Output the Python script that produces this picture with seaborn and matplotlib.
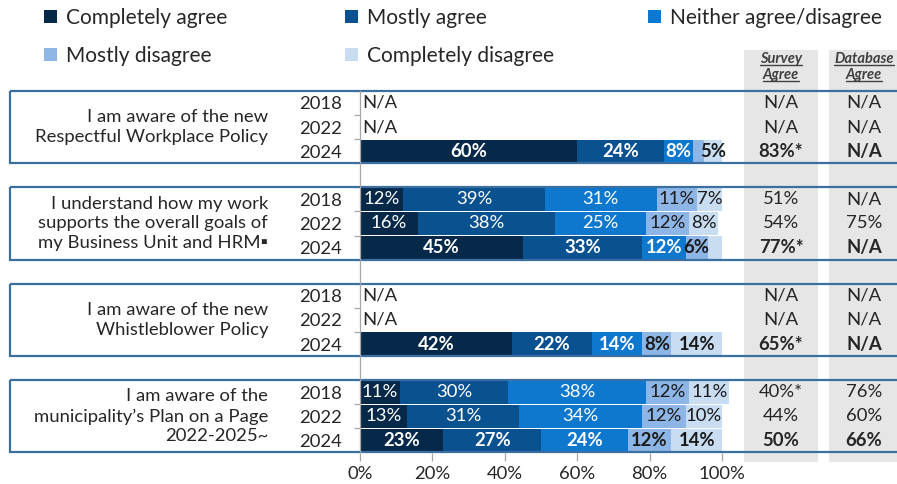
import matplotlib
matplotlib.use("Agg")
import matplotlib.pyplot as plt
from matplotlib.patches import Patch, Rectangle
from matplotlib.lines import Line2D
import numpy as np
import pandas as pd
import seaborn as sns

# ---- data -------------------------------------------------------------
questions = [
    "I am aware of the new\nRespectful Workplace Policy",
    "I understand how my work\nsupports the overall goals of\nmy Business Unit and HRM\u25aa",
    "I am aware of the new\nWhistleblower Policy",
    "I am aware of the\nmunicipality\u2019s Plan on a Page\n2022-2025~",
]
years = ["2018", "2022", "2024"]
levels = ["Completely agree", "Mostly agree", "Neither agree/disagree",
          "Mostly disagree", "Completely disagree"]
level_colors = ["#06294A", "#0A5190", "#0E78CF", "#8DB5E6", "#C8DCF2"]

# percentages per year (2018, 2022, 2024); None = question not asked
respectful = [None, None, [60, 24, 8, 3, 5]]
understand = [[12, 39, 31, 11, 7], [16, 38, 25, 12, 8], [45, 33, 12, 6, 4]]
whistleblower = [None, None, [42, 22, 14, 8, 14]]
plan_on_page = [[11, 30, 38, 12, 11], [13, 31, 34, 12, 10], [23, 27, 24, 12, 14]]

survey_agree = [["N/A", "N/A", "83%*"],
                ["51%", "54%", "77%*"],
                ["N/A", "N/A", "65%*"],
                ["40%*", "44%", "50%"]]
database_agree = [["N/A", "N/A", "N/A"],
                  ["N/A", "75%", "N/A"],
                  ["N/A", "N/A", "N/A"],
                  ["76%", "60%", "66%"]]

responses = [respectful, understand, whistleblower, plan_on_page]

# ---- long table -------------------------------------------------------
records = []
for qi, per_year in enumerate(responses):
    for yi, vals in enumerate(per_year):
        row = qi * 4 + yi
        if vals is None:
            continue
        left = 0
        for li, v in enumerate(vals):
            records.append(dict(q=qi, year=years[yi], row=row, level=levels[li],
                                li=li, value=v, left=left))
            left += v
df = pd.DataFrame(records)

# ---- style ------------------------------------------------------------
sns.set_theme(style="white")
plt.rcParams["font.family"] = ["Lato", "DejaVu Sans"]
TXT = "#262626"
FS = 13.3

W, H = 897, 484
fig = plt.figure(figsize=(W / 100, H / 100), dpi=100)
top_px, bot_px = 40, 452.5
ax = fig.add_axes([0, 1 - bot_px / H, 1, (bot_px - top_px) / H])
ax.set_facecolor("none")

px_per_unit = 3.62
x0_px = 360
ax.set_xlim(-x0_px / px_per_unit, (W - x0_px) / px_per_unit)
row_px = 24.11
ax.set_ylim(14.5, 14.5 - (bot_px - top_px) / row_px)

# grey side columns for the agreement summaries
col_bottom = 14.9
col_top = -2.2
for xa, xb in [(106.1, 126.5), (129.6, 152)]:
    ax.add_patch(Rectangle((xa, col_top), xb - xa, col_bottom - col_top,
                           facecolor="#E6E6E6", edgecolor="none",
                           zorder=0, clip_on=False))

# stacked bars
for li, lvl in enumerate(levels):
    sub = df[df["li"] == li]
    ax.barh(sub["row"], sub["value"], left=sub["left"], height=0.96,
            color=level_colors[li], edgecolor="none", zorder=2)

# segment labels
for _, r in df.iterrows():
    if r["value"] < 5:
        continue
    bold = r["year"] == "2024"
    color = "white" if r["li"] < 3 else "#1A1A1A"
    ax.text(r["left"] + r["value"] / 2, r["row"], f"{r['value']}%",
            ha="center", va="center", fontsize=FS, color=color,
            fontweight="bold" if bold else "normal", zorder=4)

# N/A rows, question boxes, question text, summary columns
for qi, per_year in enumerate(responses):
    base = qi * 4
    for yi, vals in enumerate(per_year):
        row = base + yi
        bold = yi == 2
        fw = "bold" if bold else "normal"
        if vals is None:
            ax.text(0.6, row, "N/A", ha="left", va="center", fontsize=FS,
                    color=TXT, zorder=4)
        ax.text(116.3, row, survey_agree[qi][yi], ha="center", va="center",
                fontsize=FS, color=TXT, fontweight=fw, zorder=4)
        ax.text(139.2, row, database_agree[qi][yi], ha="center", va="center",
                fontsize=FS, color=TXT, fontweight=fw, zorder=4)
    ax.text(-25.4, base + 1, questions[qi], ha="right", va="center",
            fontsize=FS, color=TXT, linespacing=1.3, zorder=4)
    ax.add_patch(Rectangle((-96.7, base - 0.5), 260, 3,
                           facecolor="none", edgecolor="#3A6F9F",
                           linewidth=1.6, zorder=3, clip_on=False))

# axes: vertical category axis at 0, percentage ticks at the bottom
for s in ["top", "right", "bottom"]:
    ax.spines[s].set_visible(False)
ax.spines["left"].set_position(("data", 0))
ax.spines["left"].set_bounds(-0.5, 14.5)
ax.spines["left"].set_color("#A6A6A6")
ax.spines["left"].set_linewidth(0.9)
ax.spines["left"].set_zorder(5)

year_rows = [qi * 4 + yi for qi in range(4) for yi in range(3)]
ax.set_yticks(year_rows)
ax.set_yticklabels([years[yi] for qi in range(4) for yi in range(3)])
ax.set_yticks([qi * 4 + b - 0.5 for qi in range(4) for b in range(4)], minor=True)
ax.tick_params(axis="y", which="major", length=0, pad=13, labelsize=FS,
               labelcolor=TXT)
ax.tick_params(axis="y", which="minor", left=True, length=4, width=0.9,
               color="#A6A6A6")

ax.set_xticks(np.arange(0, 101, 20))
ax.set_xticklabels([f"{t}%" for t in range(0, 101, 20)])
ax.tick_params(axis="x", which="major", bottom=True, length=6, width=0.9,
               color="#A6A6A6", pad=4, labelsize=FS, labelcolor=TXT)
ax.grid(False)

# header of summary columns (bold italic, underlined)
header_texts = []
for xc, words in [(116.3, ["Survey", "Agree"]), (139.2, ["Database", "Agree"])]:
    for word, yb in zip(words, [-1.66, -1.0]):
        t = ax.text(xc, yb, word, ha="center", va="baseline", fontsize=10.5,
                    fontweight="bold", fontstyle="italic", color="#404040",
                    zorder=4)
        header_texts.append((t, yb))

# legend, one column per anchor
handles = [Patch(facecolor=c, edgecolor="none") for c in level_colors]
legend_cols = [([0, 3], 44), ([1, 4], 345), ([2], 648)]
for idx, xpx in legend_cols:
    fig.legend([handles[i] for i in idx], [levels[i] for i in idx],
               loc="upper left", bbox_to_anchor=(xpx / W, 1 - 8 / H),
               frameon=False, fontsize=15, handlelength=0.6,
               handleheight=0.6, handletextpad=0.45, labelspacing=0.85,
               borderpad=0, borderaxespad=0, labelcolor=TXT)

fig.canvas.draw()
renderer = fig.canvas.get_renderer()
for t, yb in header_texts:
    bb = t.get_window_extent(renderer)
    ydisp = ax.transData.transform((0, yb))[1] - 2
    fig.add_artist(Line2D([bb.x0 / W, bb.x1 / W], [ydisp / H, ydisp / H],
                          transform=fig.transFigure, color="#404040",
                          linewidth=1.0))

fig.savefig("out.png", dpi=100)
